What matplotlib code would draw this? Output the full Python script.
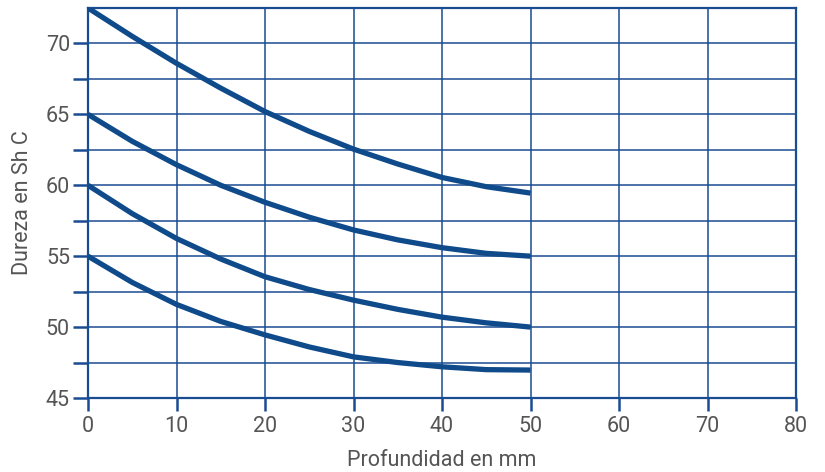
#!/usr/bin/env python3
"""Dureza Shore C vs profundidad."""

import matplotlib

matplotlib.use("Agg")
import matplotlib.pyplot as plt
import numpy as np

DEPTH_MM = [0, 5, 10, 15, 20, 25, 30, 35, 40, 45, 50]
CURVE_72 = [72.5, 70.5, 68.6, 66.85, 65.2, 63.8, 62.55, 61.5, 60.55, 59.9, 59.45]
CURVE_65 = [65.0, 63.1, 61.45, 60.0, 58.8, 57.75, 56.85, 56.15, 55.6, 55.2, 55.0]
CURVE_60 = [60.0, 58.0, 56.25, 54.8, 53.55, 52.65, 51.9, 51.25, 50.7, 50.3, 50.0]
CURVE_55 = [55.0, 53.15, 51.6, 50.4, 49.45, 48.6, 47.9, 47.5, 47.2, 47.0, 46.97]

X_TICKS = [0, 10, 20, 30, 40, 50, 60, 70, 80]
Y_TICKS = [45, 50, 55, 60, 65, 70]

GRID_BLUE = "#1a4c92"
LINE_BLUE = "#0f4a8a"
TEXT_GREY = "#555555"

plt.rcParams["font.family"] = ["Roboto", "DejaVu Sans"]

fig = plt.figure(figsize=(8.25, 4.72), dpi=100)
ax = fig.add_axes([88 / 825, 1 - 398 / 472, (796 - 88) / 825, (398 - 8) / 472])

for ys in (CURVE_72, CURVE_65, CURVE_60, CURVE_55):
    ax.plot(DEPTH_MM, ys, color=LINE_BLUE, linewidth=3.8,
            solid_capstyle="butt", solid_joinstyle="round", zorder=3)

ax.set_xlim(0, 80)
ax.set_ylim(45, 72.5)
ax.set_xticks(X_TICKS)
ax.set_yticks(Y_TICKS)
ax.set_yticks(np.arange(47.5, 72.5, 5), minor=True)

ax.grid(which="both", color=GRID_BLUE, linewidth=1.1)
ax.set_axisbelow(True)
for spine in ax.spines.values():
    spine.set_color(GRID_BLUE)
    spine.set_linewidth(1.6)

ax.tick_params(axis="y", which="both", direction="out", length=11, width=1.8,
               color=GRID_BLUE, labelsize=15.5, labelcolor=TEXT_GREY, pad=2)
ax.tick_params(axis="x", direction="out", length=9, width=1.8,
               color=GRID_BLUE, labelsize=15.5, labelcolor=TEXT_GREY, pad=4)

ax.set_xlabel("Profundidad en mm", fontsize=15.5, color=TEXT_GREY, labelpad=9)
ax.set_ylabel("Dureza en Sh C", fontsize=15.5, color=TEXT_GREY, labelpad=9)

fig.savefig("out.png", dpi=100)
